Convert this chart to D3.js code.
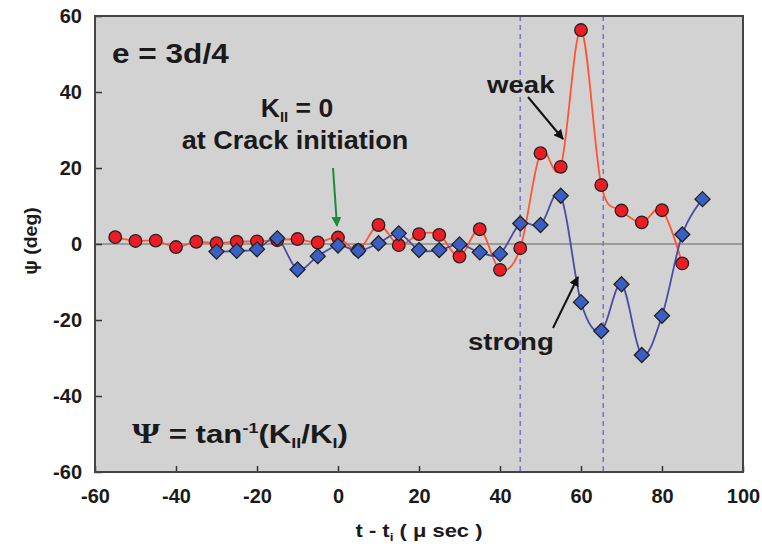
<!doctype html>
<html>
<head>
<meta charset="utf-8">
<title>psi vs time</title>
<style>
* {padding:0;margin:0}
body {background:#fff}
svg text {font-family:"Liberation Sans", Arial, sans-serif; font-weight:bold; fill:#1a1a1a}
</style>
</head>
<body>
<div id="chart"></div>
<script src="https://d3js.org/d3.v7.min.js"></script>
<script>

// weak (red circles)
const weakT = [-55,-50,-45,-40,-35,-30,-25,-20,-15,-10,-5,0,5,10,15,20,25,30,35,40,45,50,55,60,65,70,75,80,85];
const weakPsi = [1.8,0.8,0.9,-0.8,0.6,0.2,0.6,0.7,1.0,1.3,0.4,1.7,-1.6,5.0,-0.3,2.6,2.4,-3.3,3.9,-6.8,-1.1,23.9,20.3,56.3,15.5,8.8,5.7,8.9,-5.1];
// strong (blue diamonds)
const strongT = [-30,-25,-20,-15,-10,-5,0,5,10,15,20,25,30,35,40,45,50,55,60,65,70,75,80,85,90];
const strongPsi = [-2.0,-1.8,-1.4,1.5,-6.7,-3.2,-0.4,-1.8,0.2,2.8,-1.6,-1.6,-0.1,-2.2,-2.6,5.4,5.0,12.7,-15.3,-22.9,-10.6,-29.2,-18.9,2.5,11.8];

const xTicks = [-60,-40,-20,0,20,40,60,80,100];
const yTicks = [-60,-40,-20,0,20,40,60];
const markerLines = [45, 65.5];

const W = 762, H = 554;
const margin = {top: 16, right: 19, bottom: 82, left: 95};
const width = W - margin.left - margin.right;
const height = H - margin.top - margin.bottom;

const x = d3.scaleLinear().domain([-60,100]).range([0,width]);
const y = d3.scaleLinear().domain([-60,60]).range([height,0]);

const svg = d3.select("#chart").append("svg")
	.attr("width", W)
	.attr("height", H);

const defs = svg.append("defs");
defs.append("marker").attr("id","headBlack")
	.attr("viewBox","0 0 10 10").attr("refX",9).attr("refY",5)
	.attr("markerWidth",5).attr("markerHeight",5).attr("orient","auto")
	.attr("markerUnits","strokeWidth")
	.append("path").attr("d","M0,0L10,5L0,10z").attr("fill","#111");
defs.append("marker").attr("id","headGreen")
	.attr("viewBox","0 0 10 10").attr("refX",9).attr("refY",5)
	.attr("markerWidth",5).attr("markerHeight",5).attr("orient","auto")
	.attr("markerUnits","strokeWidth")
	.append("path").attr("d","M0,0L10,5L0,10z").attr("fill","#1f8a3a");

const g = svg.append("g")
	.attr("transform", "translate(" + margin.left + "," + margin.top + ")");

// plot background
g.append("rect")
	.attr("width", width).attr("height", height)
	.attr("fill", "#d2d2d2");

// zero line
g.append("line")
	.attr("x1", 0).attr("x2", width)
	.attr("y1", y(0)).attr("y2", y(0))
	.attr("stroke", "#888").attr("stroke-width", 1.5);

// dashed verticals
g.selectAll(".vdash").data(markerLines).enter().append("line")
	.attr("x1", d => x(d)).attr("x2", d => x(d))
	.attr("y1", 0).attr("y2", height)
	.attr("stroke", "#7a78c8").attr("stroke-width", 1.6)
	.attr("stroke-dasharray", "5,4");

// axes (hyphen minus like the original)
const fmt = d => String(d);
const xAxis = g.append("g")
	.attr("transform", "translate(0," + height + ")")
	.call(d3.axisBottom(x).tickValues(xTicks).tickFormat(fmt).tickSize(-6).tickPadding(17).tickSizeOuter(0));
const yAxis = g.append("g")
	.call(d3.axisLeft(y).tickValues(yTicks).tickFormat(fmt).tickSize(-7).tickPadding(13).tickSizeOuter(0));
[xAxis, yAxis].forEach(a => {
	a.select(".domain").remove();
	a.selectAll("line").attr("stroke", "#333").attr("stroke-width", 1.5);
	a.selectAll("text").style("font-size", "20px").attr("fill", "#1a1a1a");
});

// frame
g.append("rect")
	.attr("width", width).attr("height", height)
	.attr("fill", "none").attr("stroke", "#444").attr("stroke-width", 2);

const weak = weakT.map((t,i) => ({t:t, v:weakPsi[i]}));
const strong = strongT.map((t,i) => ({t:t, v:strongPsi[i]}));

// excel-like smoothing
const line = d3.line()
	.x(d => x(d.t)).y(d => y(d.v))
	.curve(d3.curveCardinal.tension(0));

g.append("path").datum(weak)
	.attr("d", line).attr("fill", "none")
	.attr("stroke", "#ff5533").attr("stroke-width", 1.8);
g.append("path").datum(strong)
	.attr("d", line).attr("fill", "none")
	.attr("stroke", "#4b4ba6").attr("stroke-width", 1.8);

g.selectAll(".weak").data(weak).enter().append("circle")
	.attr("cx", d => x(d.t)).attr("cy", d => y(d.v))
	.attr("r", 6.3)
	.attr("fill", "#ec1c24").attr("stroke", "#222").attr("stroke-width", 1.3);

g.selectAll(".strong").data(strong).enter().append("path")
	.attr("transform", d => "translate(" + x(d.t) + "," + y(d.v) + ")")
	.attr("d", "M0,-7.5L7.5,0L0,7.5L-7.5,0Z")
	.attr("fill", "#3a5fc4").attr("stroke", "#222").attr("stroke-width", 1.3);

// text helper: the original lettering is a bit wider than Arial
function label(px, py, sx, size, anchor) {
	return svg.append("text")
		.attr("transform", "translate(" + px + "," + py + ") scale(" + sx + ",1)")
		.attr("text-anchor", anchor || "start")
		.style("font-size", size + "px");
}

label(112, 63, 1.17, 27).text("e = 3d/4");

const k0 = label(297, 117, 1.06, 25, "middle");
k0.append("tspan").text("K");
k0.append("tspan").attr("dy", 5).style("font-size", "14px").text("II");
k0.append("tspan").attr("dy", -5).text(" = 0");

label(295, 149, 1.08, 25, "middle").text("at Crack initiation");

svg.append("line")
	.attr("x1", 333).attr("y1", 168).attr("x2", 337).attr("y2", 226)
	.attr("stroke", "#1f8a3a").attr("stroke-width", 2)
	.attr("marker-end", "url(#headGreen)");

label(487, 93, 1.2, 23).text("weak");
svg.append("line")
	.attr("x1", 528).attr("y1", 97).attr("x2", 563).attr("y2", 139)
	.attr("stroke", "#111").attr("stroke-width", 2)
	.attr("marker-end", "url(#headBlack)");

label(468, 350, 1.2, 23).text("strong");
svg.append("line")
	.attr("x1", 553).attr("y1", 328).attr("x2", 578).attr("y2", 277)
	.attr("stroke", "#111").attr("stroke-width", 2)
	.attr("marker-end", "url(#headBlack)");

const f = label(132, 443, 1.2, 26);
f.append("tspan").style("font-family", "'Liberation Serif', serif").style("font-size", "30px").text("Ψ");
f.append("tspan").text(" = tan");
f.append("tspan").attr("dy", -10).style("font-size", "15px").text("-1");
f.append("tspan").attr("dy", 10).text("(K");
f.append("tspan").attr("dy", 5).style("font-size", "15px").text("II");
f.append("tspan").attr("dy", -5).text("/K");
f.append("tspan").attr("dy", 5).style("font-size", "15px").text("I");
f.append("tspan").attr("dy", -5).text(")");

// axis titles
const xt = label(419, 537, 1.22, 18, "middle");
xt.append("tspan").text("t - t");
xt.append("tspan").attr("dy", 4).style("font-size", "11px").text("i");
xt.append("tspan").attr("dy", -4).text(" ( μ sec )");

svg.append("text")
	.attr("transform", "translate(37,241) rotate(-90) scale(1.08,1)")
	.attr("text-anchor", "middle").style("font-size", "18px")
	.text("ψ (deg)");

</script>
</body>
</html>
